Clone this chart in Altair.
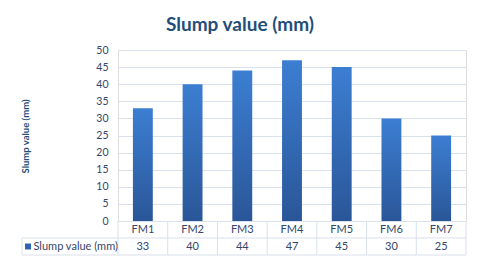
import altair as alt
import pandas as pd

categories = ["FM1", "FM2", "FM3", "FM4", "FM5", "FM6", "FM7"]
values = [33, 40, 44, 47, 45, 30, 25]
series_name = "Slump value (mm)"
chart_title = "Slump value (mm)"
y_ticks = [0, 5, 10, 15, 20, 25, 30, 35, 40, 45, 50]

df = pd.DataFrame({"cat": categories, "val": values})
one = pd.DataFrame({"label": [series_name]})

W, H = 348, 171
GRID = "#D9E1EC"
TXT = "#34466A"
FONT = "Lato"

xs = alt.X("cat:N", sort=categories, axis=None,
           scale=alt.Scale(type="band", paddingInner=0, paddingOuter=0))

grad = alt.Gradient(
    gradient="linear",
    stops=[alt.GradientStop(color="#2A5698", offset=0),
           alt.GradientStop(color="#3C7ED2", offset=1)],
    x1=1, x2=1, y1=1, y2=0,
)

bars = alt.Chart(df).mark_bar(width={"band": 0.4}, color=grad).encode(
    x=xs,
    y=alt.Y("val:Q", scale=alt.Scale(domain=[0, 50], nice=False),
            axis=alt.Axis(values=y_ticks, title=series_name, grid=True,
                          gridColor=GRID, domain=False, ticks=False,
                          labelPadding=10, labelFont=FONT, labelFontSize=10.5,
                          labelColor=TXT, titleFont=FONT, titleFontSize=9.5,
                          titleFontWeight="bold", titleColor="#1F4E79",
                          titleX=-93, titleY=86, titleAngle=-90,
                          titleAlign="center", titleBaseline="middle")),
)

vlines = alt.Chart(df).mark_rule(color=GRID, strokeWidth=1).encode(
    x=alt.X("cat:N", sort=categories, axis=None, bandPosition=0,
            scale=alt.Scale(type="band", paddingInner=0, paddingOuter=0)),
    y=alt.value(171), y2=alt.value(205),
)
right_line = alt.Chart(one).mark_rule(color=GRID).encode(
    x=alt.value(W), y=alt.value(171), y2=alt.value(205))
left_line = alt.Chart(one).mark_rule(color=GRID).encode(
    x=alt.value(-96), y=alt.value(188), y2=alt.value(205))
h_mid = alt.Chart(one).mark_rule(color=GRID).encode(
    x=alt.value(-96), x2=alt.value(W), y=alt.value(188))
h_bot = alt.Chart(one).mark_rule(color=GRID).encode(
    x=alt.value(-96), x2=alt.value(W), y=alt.value(205))

cat_text = alt.Chart(df).mark_text(font=FONT, fontSize=11, color=TXT,
                                   baseline="middle").encode(
    x=xs, y=alt.value(180), text="cat:N")
val_text = alt.Chart(df).mark_text(font=FONT, fontSize=11, color=TXT,
                                   baseline="middle").encode(
    x=xs, y=alt.value(197), text="val:Q")

legend_sq = alt.Chart(one).mark_square(size=36, color="#2E64B0", opacity=1).encode(
    x=alt.value(-90), y=alt.value(196.5))
legend_txt = alt.Chart(one).mark_text(font=FONT, fontSize=11, color=TXT,
                                      align="left", baseline="middle").encode(
    x=alt.value(-84.5), y=alt.value(197), text="label:N")

chart = alt.layer(
    bars, vlines, right_line, left_line, h_mid, h_bot,
    cat_text, val_text, legend_sq, legend_txt,
).properties(
    width=W, height=H,
    title=alt.TitleParams(chart_title, anchor="middle", dx=-52, offset=10,
                          font=FONT, fontSize=19, fontWeight="bold",
                          color="#1F4E79"),
    autosize=alt.AutoSizeParams(type="none"),
    padding={"left": 110, "top": 42, "right": 6, "bottom": 35},
).configure_view(stroke=None).configure(background="white")

chart.save("out.html", embed_options={"renderer": "svg", "actions": False})
